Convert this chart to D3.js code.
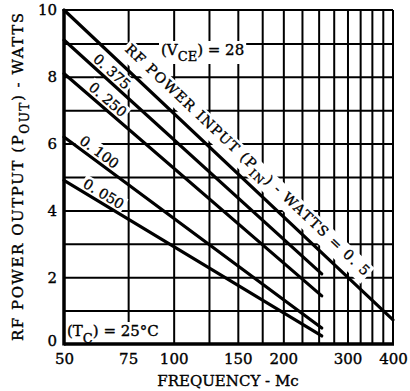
<!DOCTYPE html>
<html><head><meta charset="utf-8">
<script src="https://cdn.jsdelivr.net/npm/d3@7"></script>
<style>
html,body{margin:0;padding:0;background:#fff;}
svg text{font-family:"DejaVu Serif",serif;fill:#000;stroke:#000;stroke-width:0.35px;}
</style></head>
<body><svg id="c" width="410" height="391"></svg>
<script>
// ---- data ----
const freqTicks = [50, 75, 100, 150, 200, 300, 400];
const powerTicks = [0, 2, 4, 6, 8, 10];
const freqGrid = [75, 100, 125, 150, 175, 200, 225, 250, 275, 300, 325, 350, 375];
const powerGrid = [1, 2, 3, 4, 5, 6, 7, 8, 9];
const seriesLabels = ["0. 5", "0. 375", "0. 250", "0. 100", "0. 050"];
const seriesFreq = [[50, 400], [50, 255], [50, 255], [50, 255], [50, 255]];
const seriesPower = [[10, 0.72], [9.1, 2.1], [8.1, 1.44], [6.2, 0.48], [4.9, 0.24]];

// ---- layout ----
const L = 64, R = 393, T = 10, B = 344;
const svg = d3.select("#c");
const x = d3.scaleLog().domain([50, 400]).range([L, R]);
const y = d3.scaleLinear().domain([0, 10]).range([B, T]);

// grid
const g = svg.append("g");
g.append("g").attr("transform", `translate(0,${B})`)
  .call(d3.axisBottom(x).tickValues(freqGrid).tickSize(-(B - T)).tickFormat(""))
  .call(s => { s.select(".domain").remove(); s.selectAll("line").attr("stroke", "#000").attr("stroke-width", 2); });
g.append("g").attr("transform", `translate(${L},0)`)
  .call(d3.axisLeft(y).tickValues(powerGrid).tickSize(-(R - L)).tickFormat(""))
  .call(s => { s.select(".domain").remove(); s.selectAll("line").attr("stroke", "#000").attr("stroke-width", 2); });

// label layer (with white backgrounds to break grid)
const labelLayer = svg.append("g");
function bgText(sel, pad) {
  sel.each(function () {
    const bb = this.getBBox();
    d3.select(this.parentNode).insert("rect", () => this)
      .attr("x", bb.x - pad).attr("y", bb.y - pad + 2)
      .attr("width", bb.width + 2 * pad).attr("height", bb.height + 2 * pad - 4)
      .attr("fill", "#fff");
  });
}

// lines
const lineGen = d3.line().x(d => x(d[0])).y(d => y(d[1]));
const series = seriesLabels.map((lab, i) => ({
  label: lab,
  pts: seriesFreq[i].map((f, j) => [f, seriesPower[i][j]])
}));

// labels along lines
const labelX = [236, 106, 102, 94, 99];
const labelDy = [-12, -4, -4, -4, -4];
series.forEach((s, i) => {
  const p0 = s.pts[0], p1 = s.pts[1];
  const x0 = x(p0[0]), y0 = y(p0[1]), x1 = x(p1[0]), y1 = y(p1[1]);
  const ang = Math.atan2(y1 - y0, x1 - x0) * 180 / Math.PI;
  const px = labelX[i];
  const py = y0 + (px - x0) * (y1 - y0) / (x1 - x0);
  const gg = labelLayer.append("g").attr("transform", `translate(${px},${py}) rotate(${ang})`);
  const t = gg.append("text").attr("y", labelDy[i]).attr("text-anchor", "middle").attr("font-size", 14);
  if (i === 0) {
    t.attr("font-size", 14).attr("textLength", 330).attr("lengthAdjust", "spacing");
    t.append("tspan").text("RF POWER INPUT (P");
    t.append("tspan").attr("font-size", 11).attr("dy", 5).text("IN");
    t.append("tspan").attr("dy", -5).text(") - WATTS = " + s.label);
  } else {
    t.text(s.label);
  }
  bgText(t, 2);
});

// VCE label
{
  const t = labelLayer.append("text").attr("x", 161).attr("y", 55).attr("font-size", 15);
  t.append("tspan").text("(V");
  t.append("tspan").attr("font-size", 13).attr("dy", 6).text("CE");
  t.append("tspan").attr("dy", -6).text(") = 28");
  bgText(t, 2);
}
// TC label
{
  const t = labelLayer.append("text").attr("x", 67).attr("y", 336).attr("font-size", 15);
  t.append("tspan").text("(T");
  t.append("tspan").attr("font-size", 13).attr("dy", 7).text("C");
  t.append("tspan").attr("dy", -7).text(") = 25°C");
  bgText(t, 2);
}

svg.append("g").selectAll("path").data(series).join("path")
  .attr("d", d => lineGen(d.pts))
  .attr("fill", "none").attr("stroke", "#000").attr("stroke-width", 3.2).attr("stroke-linecap", "round");

// frame
svg.append("line").attr("x1", L).attr("x2", R).attr("y1", T).attr("y2", T).attr("stroke", "#000").attr("stroke-width", 2);
svg.append("line").attr("x1", R).attr("x2", R).attr("y1", T).attr("y2", B).attr("stroke", "#000").attr("stroke-width", 2);
svg.append("line").attr("x1", L).attr("x2", L).attr("y1", T - 1).attr("y2", B + 1.5).attr("stroke", "#000").attr("stroke-width", 3.5);
svg.append("line").attr("x1", L).attr("x2", R + 1).attr("y1", B).attr("y2", B).attr("stroke", "#000").attr("stroke-width", 3.5);

// axes labels
svg.append("g").attr("transform", `translate(0,${B})`)
  .call(d3.axisBottom(x).tickValues(freqTicks).tickSize(0).tickPadding(9).tickFormat(d3.format("d")))
  .call(s => { s.select(".domain").remove(); s.selectAll("text").attr("font-size", 15).attr("font-family", "DejaVu Serif"); });
svg.append("g").attr("transform", `translate(${L},0)`)
  .call(d3.axisLeft(y).tickValues(powerTicks).tickSize(0).tickPadding(7).tickFormat(d3.format("d")))
  .call(s => {
    s.select(".domain").remove();
    s.selectAll("text").attr("font-size", 15).attr("font-family", "DejaVu Serif")
      .attr("dy", d => d === 0 ? "0.1em" : "0.32em");
  });

// titles
svg.append("text").attr("x", 228).attr("y", 386).attr("text-anchor", "middle").attr("font-size", 15)
  .text("FREQUENCY - Mc");
{
  const t = svg.append("text").attr("transform", "translate(23,177) rotate(-90)")
    .attr("text-anchor", "middle").attr("font-size", 15).attr("textLength", 328).attr("lengthAdjust", "spacing");
  t.append("tspan").text("RF POWER OUTPUT (P");
  t.append("tspan").attr("font-size", 12).attr("dy", 6).text("OUT");
  t.append("tspan").attr("dy", -6).text(") - WATTS");
}
</script></body></html>
